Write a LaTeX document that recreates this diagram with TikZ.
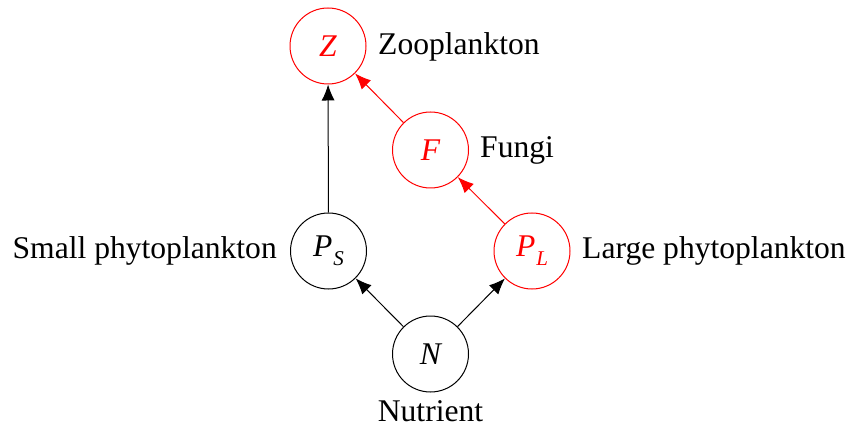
\documentclass[tikz,border=0pt]{standalone}
\usepackage{fontspec}
\setmainfont{Liberation Serif}
\usetikzlibrary{arrows.meta}
\newcommand{\subsc}[1]{\raisebox{-9pt}{\fontsize{21}{23}\selectfont\itshape #1}}
\begin{document}
\begin{tikzpicture}[x=1pt,y=-1pt,
  font=\fontsize{31.6}{36}\selectfont,
  state/.style={circle,draw,minimum size=76pt,inner sep=0pt,line width=1pt},
  lbl/.style={inner sep=0pt},
  arr/.style={-{Latex[length=16pt,width=13pt]},line width=1pt}]
\useasboundingbox (0,0) rectangle (850,427);
\node[state,red] (Z) at (328,46) {\itshape Z};
\node[state,red] (F) at (430.5,150) {\itshape F};
\node[state] (PS) at (328.5,251) {\itshape P\kern1pt\subsc{S}};
\node[state,red] (PL) at (532,251) {\itshape P\kern1pt\subsc{L}};
\node[state] (N) at (430.5,354) {\itshape N};
\node[lbl,anchor=base west] (zl) at (378,55) {Zooplankton};
\node[lbl,anchor=base west] (fl) at (480,158) {Fungi};
\node[lbl,anchor=base east] (sl) at (277,259) {Small phytoplankton};
\node[lbl,anchor=base west] (ll) at (582,259) {Large phytoplankton};
\node[lbl,anchor=base] (nl) at (430.5,421) {Nutrient};
\draw[arr] (N) -- (PS);
\draw[arr] (N) -- (PL);
\draw[arr] (PS) -- (Z);
\draw[arr,red] (PL) -- (F);
\draw[arr,red] (F) -- (Z);
\end{tikzpicture}
\end{document}
